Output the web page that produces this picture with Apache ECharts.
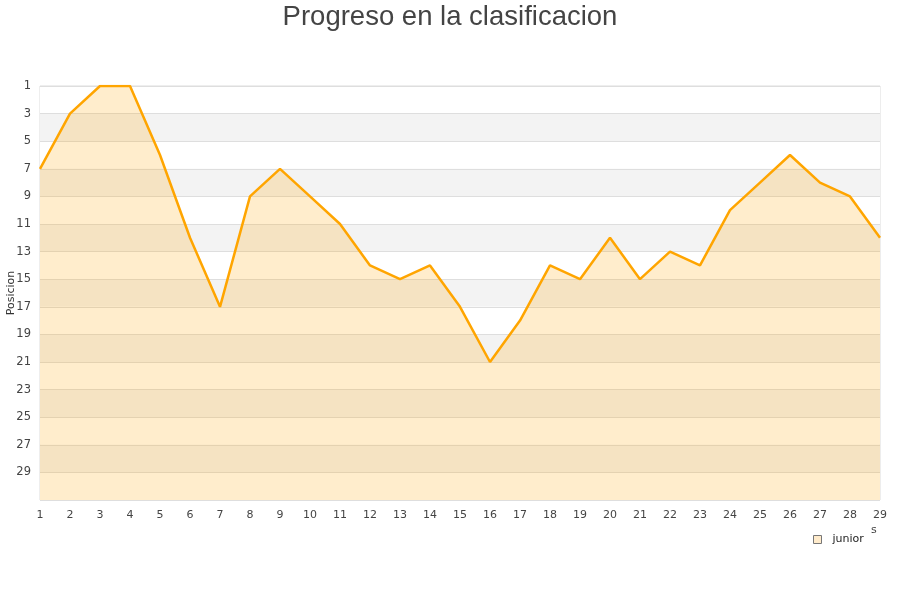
<!DOCTYPE html>
<html><head><meta charset="utf-8">
<script src="https://cdn.jsdelivr.net/npm/echarts@6/dist/echarts.min.js"></script>
<style>html,body{margin:0;padding:0;background:#fff}#c{width:900px;height:600px}</style>
</head><body><div id="c"></div>
<script>
const jornadas = [1,2,3,4,5,6,7,8,9,10,11,12,13,14,15,16,17,18,19,20,21,22,23,24,25,26,27,28,29];
const posiciones = [7,3,1,1,6,12,17,9,7,9,11,14,15,14,17,21,18,14,15,12,15,13,14,10,8,6,8,9,12];
const seriesName = 'junior';
const titleText = 'Progreso en la clasificacion';
const yAxisName = 'Posicion';

const chart = echarts.init(document.getElementById('c'), null, {renderer:'canvas'});
chart.setOption({
  animation:false,
  backgroundColor:'#fff',
  title:{text:titleText, left:'center', top:-2, textStyle:{fontFamily:'Liberation Sans', fontSize:27.5, fontWeight:'normal', color:'#444'}},
  grid:{left:40, right:20, top:86, bottom:100, containLabel:false, outerBoundsMode:'none', show:true, borderColor:'#dcdcdc', borderWidth:1},
  legend:{data:[{name:seriesName, icon:'rect', itemStyle:{color:'#FFEBCB', borderColor:'#777', borderWidth:1}}], left:808, top:529, itemWidth:8, itemHeight:8, itemGap:5,
    textStyle:{fontFamily:'DejaVu Sans', fontSize:11, color:'#222', padding:[0,0,0,6]}},
  xAxis:{type:'value', min:1, max:29, interval:1,
    axisLine:{show:false}, axisTick:{show:false}, splitLine:{show:false},
    axisLabel:{fontFamily:'DejaVu Sans', fontSize:11, color:'#444', margin:10}},
  yAxis:{type:'value', inverse:true, min:1, max:31, interval:2,
    axisLine:{show:false}, axisTick:{show:false},
    axisLabel:{fontFamily:'DejaVu Sans', fontSize:11.5, color:'#444', margin:9, formatter:v=> v>29?'':String(v)},
    splitLine:{show:true, lineStyle:{color:'#dedede'}},
    splitArea:{show:true, areaStyle:{color:['#ffffff','#f3f3f3']}}},
  graphic:[
    {type:'text', left:871, top:525, style:{text:'s', fontFamily:'DejaVu Sans', fontSize:11, fill:'#444'}},
    {type:'text', x:11, y:293, rotation:Math.PI/2, style:{text:yAxisName, fontFamily:'DejaVu Sans', fontSize:11, fill:'#333', align:'center', verticalAlign:'middle'}}
  ],
  series:[{name:seriesName, type:'line', data:jornadas.map((j,i)=>[j,posiciones[i]]),
    showSymbol:false, symbol:'none',
    lineStyle:{color:'#FFA500', width:2.5},
    itemStyle:{color:'#FFEBCB'},
    areaStyle:{color:'#FFA500', opacity:0.2, origin:'end'}}]
});
</script></body></html>
